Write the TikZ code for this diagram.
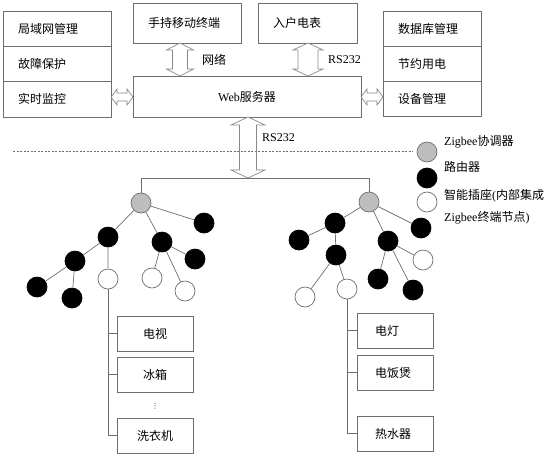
\documentclass[tikz,border=0pt]{standalone}
\usepackage{fontspec}
\setmainfont{Liberation Serif}
\newfontfamily\zhfont{Noto Sans CJK SC}
\newfontfamily\symfont{DejaVu Sans}
\usetikzlibrary{positioning,calc}
\definecolor{linegray}{HTML}{6E6E6E}
\definecolor{arrowgray}{HTML}{8A8A8A}
\definecolor{coordgray}{HTML}{BEBEBE}

% hollow double arrows: x or y, first point, second point, shaft half, head half, head length
\newcommand\vdarrow[6]{%
  \draw[blockarrow] let \p1=#2, \p2=#3 in
    (#1pt,\y1) -- ({#1pt+#5pt},{\y1-#6pt}) -- ({#1pt+#4pt},{\y1-#6pt})
    -- ({#1pt+#4pt},{\y2+#6pt}) -- ({#1pt+#5pt},{\y2+#6pt}) -- (#1pt,\y2)
    -- ({#1pt-#5pt},{\y2+#6pt}) -- ({#1pt-#4pt},{\y2+#6pt})
    -- ({#1pt-#4pt},{\y1-#6pt}) -- ({#1pt-#5pt},{\y1-#6pt}) -- cycle;}
\newcommand\hdarrow[6]{%
  \draw[blockarrow] let \p1=#2, \p2=#3 in
    (\x1,-#1pt) -- ({\x1+#6pt},{-#1pt+#5pt}) -- ({\x1+#6pt},{-#1pt+#4pt})
    -- ({\x2-#6pt},{-#1pt+#4pt}) -- ({\x2-#6pt},{-#1pt+#5pt}) -- (\x2,-#1pt)
    -- ({\x2-#6pt},{-#1pt-#5pt}) -- ({\x2-#6pt},{-#1pt-#4pt})
    -- ({\x1+#6pt},{-#1pt-#4pt}) -- ({\x1+#6pt},{-#1pt-#5pt}) -- cycle;}

\begin{document}
\begin{tikzpicture}[x=1pt,y=-1pt,font=\fontsize{12}{14}\selectfont,
  box/.style={draw=linegray,line width=0.7pt,inner xsep=15pt,inner ysep=0pt,
    outer sep=0pt,align=left,minimum height=35pt,anchor=north west},
  blockarrow/.style={draw=arrowgray,line width=0.7pt,fill=white},
  link/.style={draw=linegray,line width=0.7pt},
  dot/.style={circle,minimum size=20pt,inner sep=0pt,line width=0.7pt},
  coord/.style={dot,draw=linegray,fill=coordgray},
  router/.style={dot,draw=black,fill=black},
  plug/.style={dot,draw=linegray,fill=white},
  legend/.style={anchor=west,inner sep=0pt}]
  \useasboundingbox (0,0) rectangle (548,456);

  % management layer
  \node[box,text width=78pt] (lan) at (3,11) {\zhfont 局域网管理};
  \node[box,text width=78pt,below=0pt of lan] (fault) {\zhfont 故障保护};
  \node[box,text width=78pt,below=0pt of fault,minimum height=36pt] (monitor) {\zhfont 实时监控};
  \node[box,text width=78pt,minimum height=40pt] (hand) at (133,3) {\zhfont 手持移动终端};
  \node[box,text width=69pt,minimum height=40pt] (meter) at (258,3) {\zhfont 入户电表};
  \node[box,minimum width=228pt,minimum height=41pt,align=center] (web) at (133,76) {Web{\zhfont 服务器}};
  \node[box,text width=68pt] (db) at (383,11) {\zhfont 数据库管理};
  \node[box,text width=68pt,below=0pt of db] (save) {\zhfont 节约用电};
  \node[box,text width=68pt,below=0pt of save] (devmgr) {\zhfont 设备管理};

  \coordinate (bus) at (248,178);
  \vdarrow{180}{(hand.south)}{(web.north)}{7.5}{13.5}{7}
  \vdarrow{308}{(meter.south)}{(web.north)}{10}{15}{7}
  \vdarrow{248}{(web.south)}{(bus)}{8.5}{17}{8}
  \hdarrow{97}{(monitor.east)}{(web.west)}{4}{8}{6}
  \hdarrow{97}{(web.east)}{(devmgr.west)}{4}{8}{6}
  \node[legend] (net) at (202,60) {\zhfont 网络};
  \node[legend] (rsa) at (328,60) {RS232};
  \node[legend] (rsb) at (262,138) {RS232};

  % legend
  \node[coord] (kc) at (427,152) {};
  \node[router] (kr) at (427,178) {};
  \node[plug] (kp) at (427,202) {};
  \node[legend] (kct) at (444,142) {Zigbee{\zhfont 协调器}};
  \node[legend] (krt) at (444,167) {\zhfont 路由器};
  \node[legend] (kpt) at (444,196) {{\zhfont 智能插座}({\zhfont 内部集成}};
  \node[legend] (kpu) at (444,218) {Zigbee{\zhfont 终端节点})};
  \draw[draw=linegray,line width=0.6pt,dash pattern=on 2pt off 1.5pt] (13,151) -- ($(kc.west)+(-4,-1)$);

  % left network
  \node[coord] (cL) at (141,203) {};
  \node[router] (l1) at (108,237) {};
  \node[router] (l2) at (162,242) {};
  \node[router] (l3) at (204,223) {};
  \node[router] (l4) at (75,261) {};
  \node[router] (l5) at (37,287) {};
  \node[router] (l6) at (72,298) {};
  \node[router] (l7) at (195,259) {};
  \node[plug] (lp1) at (108,279) {};
  \node[plug] (lp2) at (152,278) {};
  \node[plug] (lp3) at (185,291) {};
  \draw[link] (cL) -- (l1) (cL) -- (l2) (cL) -- (l3) (l1) -- (l4) (l1) -- (lp1)
    (l4) -- (l5) (l4) -- (l6) (l2) -- (lp2) (l2) -- (lp3) (l2) -- (l7);

  % right network
  \node[coord] (cR) at (369,202) {};
  \node[router] (r1) at (335,223) {};
  \node[router] (r2) at (421,228) {};
  \node[router] (r3) at (388,241) {};
  \node[router] (r4) at (299,240) {};
  \node[router] (r5) at (336,255) {};
  \node[router] (r6) at (378,279) {};
  \node[router] (r7) at (413,290) {};
  \node[plug] (rp1) at (423,260) {};
  \node[plug] (rp2) at (305,297) {};
  \node[plug] (rp3) at (347,289) {};
  \draw[link] (cR) -- (r1) (cR) -- (r2) (cR) -- (r3) (r1) -- (r4) (r1) -- (r5)
    (r5) -- (rp2) (r5) -- (rp3) (r3) -- (rp1) (r3) -- (r6) (r3) -- (r7);

  \draw[link] (cL.north) -- (cL.north |- bus) -- (cR.north |- bus) -- (cR.north);

  % appliances
  \node[box,minimum width=76pt,align=center] (tv) at (117,316) {\zhfont 电视};
  \node[box,minimum width=76pt,align=center] (fridge) at (117,357) {\zhfont 冰箱};
  \node[box,minimum width=76pt,align=center] (washer) at (117,418) {\zhfont 洗衣机};
  \node[inner sep=0pt] (more) at (155,406) {\symfont\scriptsize ⋮};
  \node[box,text width=40pt,inner xsep=18pt] (lamp) at (357,313) {\zhfont 电灯};
  \node[box,text width=40pt,inner xsep=18pt] (cooker) at (357,355) {\zhfont 电饭煲};
  \node[box,text width=40pt,inner xsep=18pt] (heater) at (357,416) {\zhfont 热水器};
  \draw[link] (lp1.south) |- (washer.west);
  \draw[link] (lp1.south |- tv.west) -- (tv.west);
  \draw[link] (lp1.south |- fridge.west) -- (fridge.west);
  \draw[link] (rp3.south) |- (heater.west);
  \draw[link] (rp3.south |- lamp.west) -- (lamp.west);
  \draw[link] (rp3.south |- cooker.west) -- (cooker.west);
\end{tikzpicture}
\end{document}
